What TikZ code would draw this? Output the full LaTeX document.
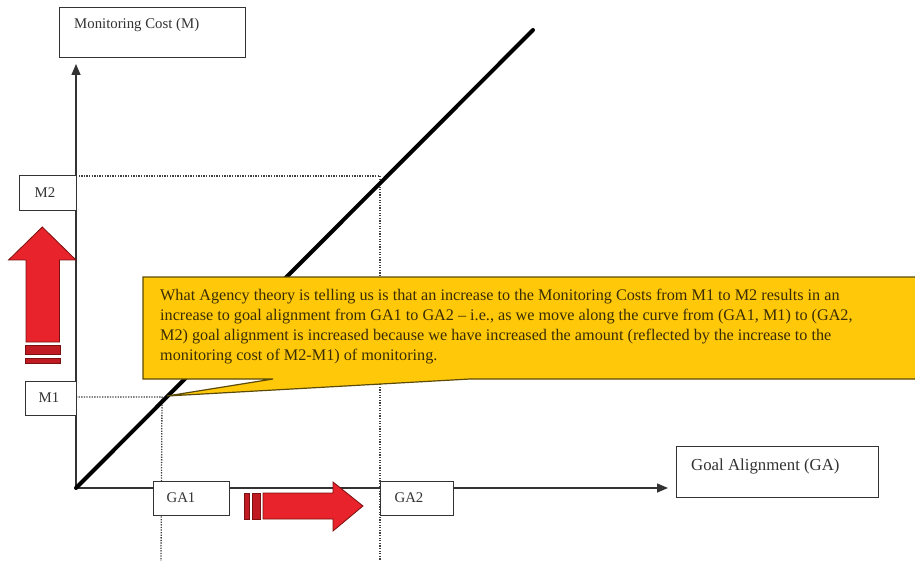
\documentclass[tikz,border=0pt]{standalone}
\usepackage{fontspec}
\setmainfont{Liberation Serif}
\usetikzlibrary{arrows.meta}
\definecolor{inkgray}{HTML}{333333}
\definecolor{guidegray}{HTML}{404040}
\definecolor{arrowred}{HTML}{E8232B}
\definecolor{darkred}{HTML}{C01A22}
\definecolor{redline}{HTML}{7A1010}
\definecolor{calloutfill}{HTML}{FFC90A}
\definecolor{calloutline}{HTML}{5C4A08}
\definecolor{callouttext}{HTML}{3A2C05}
\tikzset{
  x=1pt, y=-1pt,
  labelbox/.style={draw=inkgray, line width=1.2pt, fill=white, inner sep=0pt, anchor=north west},
  labeltext/.style={text=inkgray, inner sep=0pt, font=\fontsize{14.8}{17}\selectfont},
  axisline/.style={draw=inkgray, line width=1.5pt, -{Triangle[length=11pt,width=9pt]}},
  guide/.style={draw=guidegray, line width=1.3pt, dash pattern=on 1.3pt off 1.3pt},
  blockarrow/.style={fill=arrowred, draw=redline, line width=0.8pt, line join=miter},
  stripe/.style={fill=darkred, draw=redline, line width=0.6pt},
}
\begin{document}
\begin{tikzpicture}
\useasboundingbox (0,0) rectangle (915,561);

% reference points
\coordinate (O) at (76,488);
\coordinate (ytop) at (76,64);
\coordinate (xend) at (668,488);
\coordinate (curveEnd) at (533,30);
\coordinate (pM2) at (380,176);
\coordinate (pM1) at (162,397);
\coordinate (bottomM2) at (380,561);
\coordinate (bottomM1) at (161,561);
\coordinate (leftM2) at (76,176);
\coordinate (leftM1) at (76,397);

% dotted guides
\draw[guide] (leftM2) -- (pM2) -- (bottomM2);
\draw[guide] (leftM1) -- (pM1) -- (bottomM1);

% axes
\draw[axisline] (O) -- (ytop);
\draw[axisline] (O) -- (xend);

% monitoring cost vs goal alignment curve
\draw[black, line width=4pt, line cap=round] (O) -- (curveEnd);

% axis title boxes
\node[labelbox, minimum width=186pt, minimum height=50pt] (mcbox) at (59,7) {};
\node[labeltext, anchor=west] (mctext) at (74,25) {Monitoring Cost (M)};
\node[labelbox, minimum width=202pt, minimum height=51pt] (gabox) at (676,446) {};
\node[labeltext, anchor=west, font=\fontsize{16.8}{19}\selectfont] (gatext) at (691,466) {Goal Alignment (GA)};

% value boxes on the axes
\node[labelbox, minimum width=57pt, minimum height=35pt] (m2box) at (19,175) {};
\node[labeltext] (m2text) at (45,193) {M2};
\node[labelbox, minimum width=51pt, minimum height=34pt] (m1box) at (25,381) {};
\node[labeltext] (m1text) at (49,398) {M1};
\node[labelbox, minimum width=76pt, minimum height=34pt] (ga1box) at (153,481) {};
\node[labeltext] (ga1text) at (181,498) {GA1};
\node[labelbox, minimum width=73pt, minimum height=34pt] (ga2box) at (380,481) {};
\node[labeltext] (ga2text) at (409,498) {GA2};

% red block arrow pointing up
\draw[blockarrow] (26,342) -- (26,260) -- (8.5,260) -- (42.3,227) -- (76,260) -- (59.5,260) -- (59.5,342) -- cycle;
\draw[stripe] (25,345) rectangle (60,354);
\draw[stripe] (25,358.5) rectangle (60,363.5);

% red block arrow pointing right
\draw[stripe] (244,493) rectangle (249.5,519);
\draw[stripe] (252,493) rectangle (260,519);
\draw[blockarrow] (263,493) -- (333,493) -- (333,482) -- (363,506) -- (333,531) -- (333,519) -- (263,519) -- cycle;

% explanatory callout
\draw[fill=calloutfill, draw=calloutline, line width=1.2pt, line join=miter]
  (143,277) -- (925,277) -- (925,379) -- (470,379) -- (167,396) -- (273,379) -- (143,379) -- cycle;
\node[anchor=north west, inner sep=0pt, text=callouttext, align=left,
      font=\fontsize{16.2}{20}\selectfont] (note) at (160,289)
  {What Agency theory is telling us is that an increase to the Monitoring Costs from M1 to M2 results in an\\
   increase to goal alignment from GA1 to GA2 -- i.e., as we move along the curve from (GA1, M1) to (GA2,\\
   M2) goal alignment is increased because we have increased the amount (reflected by the increase to the\\
   monitoring cost of M2-M1) of monitoring.};
\end{tikzpicture}
\end{document}
